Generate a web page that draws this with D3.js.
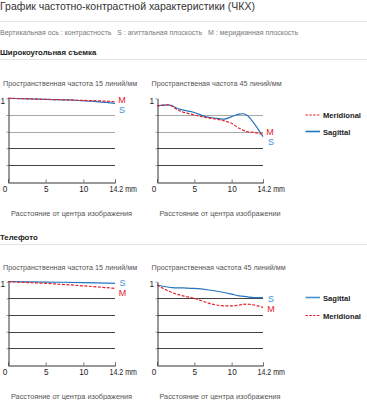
<!DOCTYPE html>
<html>
<head>
<meta charset="utf-8">
<script src="https://cdn.jsdelivr.net/npm/d3@7/dist/d3.min.js"></script>
<style>
  body { margin: 0; background: #fff; }
  text { font-family: "Liberation Sans", Arial, sans-serif; }
</style>
</head>
<body>
<script>
// ticks
const distTicks = [0, 5, 10, 14.2];
const gridLevels = [0.2, 0.4, 0.6, 0.8];

// wide angle, 15 lines/mm
const wide15Dist = [0, 2, 4, 6, 8, 10, 11, 12, 13, 14.2];
const wide15S = [1.0, 0.995, 0.99, 0.985, 0.98, 0.97, 0.965, 0.958, 0.95, 0.94];
const wide15M = [1.0, 0.995, 0.99, 0.985, 0.98, 0.975, 0.972, 0.97, 0.965, 0.96];

// wide angle, 45 lines/mm
const wide45Dist = [0, 1.5, 3, 5, 6.5, 8, 9, 10, 11, 11.5, 12, 13, 14.2];
const wide45S = [0.91, 0.92, 0.87, 0.83, 0.78, 0.76, 0.75, 0.78, 0.81, 0.815, 0.80, 0.70, 0.54];
const wide45M = [0.91, 0.92, 0.85, 0.80, 0.77, 0.75, 0.73, 0.70, 0.64, 0.62, 0.60, 0.59, 0.57];

// tele, 15 lines/mm
const tele15Dist = [0, 5, 10, 14.2];
const tele15S = [1.0, 0.995, 0.99, 0.98];
const tele15M = [1.0, 0.98, 0.95, 0.92];

// tele, 45 lines/mm
const tele45Dist = [0, 2, 3.5, 5, 7, 9, 10, 11, 12, 13, 14.2];
const tele45S = [0.96, 0.93, 0.925, 0.92, 0.90, 0.87, 0.85, 0.83, 0.82, 0.81, 0.81];
const tele45M = [0.96, 0.87, 0.83, 0.80, 0.74, 0.71, 0.71, 0.72, 0.73, 0.72, 0.69];

const RED = "#e5202b";
const BLUE = "#2575bd";
const LABEL_BLUE = "#3a90d4";

const svg = d3.select("body").append("svg")
    .attr("width", 367)
    .attr("height", 400);

// page headings
svg.append("text").attr("x", 0).attr("y", 10)
    .attr("font-size", 10.5).attr("fill", "#333")
    .text("График частотно-контрастной характеристики (ЧКХ)");
svg.append("line").attr("x1", 0).attr("x2", 367).attr("y1", 21.5).attr("y2", 21.5)
    .attr("stroke", "#e4e4e4");
svg.append("text").attr("x", 0).attr("y", 35)
    .attr("font-size", 7).attr("fill", "#777")
    .attr("xml:space", "preserve")
    .text("Вертикальная ось : контрастность   S : агиттальная плоскость   M : меридианная плоскость");
svg.append("text").attr("x", 0).attr("y", 54.5)
    .attr("font-size", 7.8).attr("font-weight", "bold").attr("fill", "#222")
    .text("Широкоугольная съемка");
svg.append("line").attr("x1", 0).attr("x2", 367).attr("y1", 59.5).attr("y2", 59.5)
    .attr("stroke", "#e4e4e4");
svg.append("text").attr("x", 0).attr("y", 239.5)
    .attr("font-size", 7.8).attr("font-weight", "bold").attr("fill", "#222")
    .text("Телефото");
svg.append("line").attr("x1", 0).attr("x2", 367).attr("y1", 244.5).attr("y2", 244.5)
    .attr("stroke", "#e4e4e4");

function drawPanel(p) {
    const x = d3.scaleLinear().domain([0, 14.2]).range([p.left, p.right]);
    const y = d3.scaleLinear().domain([0, 1]).range([p.bottom, p.top]);
    const g = svg.append("g");

    g.append("text").attr("x", p.titleX).attr("y", p.top - 12)
        .attr("font-size", 7.2).attr("fill", "#555").text(p.title);

    // grid
    g.selectAll(".grid").data(gridLevels).join("line")
        .attr("x1", p.left).attr("x2", p.right)
        .attr("y1", d => Math.round(y(d)) + 0.5).attr("y2", d => Math.round(y(d)) + 0.5)
        .attr("stroke", d => (p.lightTop && d >= 0.6) ? "#a8a8a8" : "#444");

    // axes
    const xAxis = g.append("g")
        .attr("transform", `translate(0,${Math.round(p.bottom) + 0.5})`)
        .call(d3.axisBottom(x).tickValues(distTicks).tickSize(-3).tickPadding(4)
            .tickFormat(d => d === 14.2 ? "14.2 mm" : d));
    xAxis.select(".domain").attr("stroke", "#333");
    xAxis.selectAll(".tick line").attr("stroke", "#777");
    xAxis.selectAll(".tick text").attr("font-size", 8.2).attr("fill", "#222")
        .attr("font-family", null);
    xAxis.selectAll(".tick text").filter(d => d === 0).attr("x", -3.5);
    xAxis.selectAll(".tick text").filter(d => d === 14.2)
        .attr("text-anchor", "start").attr("x", -6)
        .attr("textLength", 27.5).attr("lengthAdjust", "spacingAndGlyphs");

    const yAxis = g.append("g")
        .attr("transform", `translate(${p.left + 0.5},0)`)
        .call(d3.axisLeft(y).tickValues([0.2, 0.4, 0.6, 0.8, 1]).tickSize(2).tickPadding(1.5)
            .tickSizeOuter(0)
            .tickFormat(d => d === 1 ? "1" : ""));
    yAxis.select(".domain").attr("stroke", "#333");
    yAxis.selectAll(".tick line").attr("stroke", "#999");
    yAxis.selectAll(".tick text").attr("font-size", 8.2).attr("fill", "#222")
        .attr("font-family", null).attr("dy", "0.6em");

    const line = d3.line()
        .x(d => x(d[0]))
        .y(d => y(d[1]))
        .curve(d3.curveMonotoneX);

    p.series.forEach(s => {
        g.append("path")
            .datum(d3.zip(s.dist, s.values))
            .attr("d", line)
            .attr("fill", "none")
            .attr("stroke", s.color)
            .attr("stroke-width", 1.2)
            .attr("stroke-dasharray", s.dashed ? "3,1.5" : null);
    });

    p.tags.forEach(t => {
        g.append("text").attr("x", t.x).attr("y", t.y)
            .attr("text-anchor", "middle").attr("font-size", 9)
            .attr("fill", t.color).text(t.text);
    });

    g.append("text").attr("x", p.titleX + 8).attr("y", p.bottom + 34)
        .attr("font-size", 7.3).attr("fill", "#555").text(p.axisTitle);
}

function drawLegend(x0, items) {
    items.forEach(it => {
        svg.append("line")
            .attr("x1", x0).attr("x2", x0 + 14.5)
            .attr("y1", it.y).attr("y2", it.y)
            .attr("stroke", it.color).attr("stroke-width", it.dashed ? 1.2 : 1.6)
            .attr("stroke-dasharray", it.dashed ? "2.5,1.3" : null);
        svg.append("text").attr("x", x0 + 17.5).attr("y", it.y + 3)
            .attr("font-size", 7.6).attr("font-weight", "bold").attr("fill", "#222")
            .text(it.text);
    });
}

const topY = 98.3, botY = 181.7;
const topY2 = 281.7, botY2 = 365;

drawPanel({
    left: 8, right: 115, top: topY, bottom: botY, titleX: 3, lightTop: true,
    title: "Пространственная частота 15 линий/мм",
    axisTitle: "Расстояние от центра изображения",
    series: [
        { dist: wide15Dist, values: wide15S, color: BLUE, dashed: false },
        { dist: wide15Dist, values: wide15M, color: RED, dashed: true }
    ],
    tags: [
        { text: "M", x: 122, y: 103 , color: RED },
        { text: "S", x: 122, y: 113.3, color: LABEL_BLUE }
    ]
});

drawPanel({
    left: 157, right: 263, top: topY, bottom: botY, titleX: 151.5, lightTop: true,
    title: "Пространственая частота 45 линий/мм",
    axisTitle: "Расстояние от центра изображении",
    series: [
        { dist: wide45Dist, values: wide45S, color: BLUE, dashed: false },
        { dist: wide45Dist, values: wide45M, color: RED, dashed: true }
    ],
    tags: [
        { text: "M", x: 270, y: 135, color: RED },
        { text: "S", x: 271, y: 145.3, color: LABEL_BLUE }
    ]
});

drawLegend(305.5, [
    { text: "Meridional", y: 115, color: RED, dashed: true },
    { text: "Sagittal", y: 131.5, color: BLUE, dashed: false }
]);

drawPanel({
    left: 8, right: 115, top: topY2, bottom: botY2, titleX: 3, lightTop: false,
    title: "Пространственная частота 15 линий/мм",
    axisTitle: "Расстояние от центра изображения",
    series: [
        { dist: tele15Dist, values: tele15S, color: BLUE, dashed: false },
        { dist: tele15Dist, values: tele15M, color: RED, dashed: true }
    ],
    tags: [
        { text: "S", x: 122.5, y: 286, color: LABEL_BLUE },
        { text: "M", x: 122.5, y: 296.3, color: RED }
    ]
});

drawPanel({
    left: 157, right: 263, top: topY2, bottom: botY2, titleX: 151.5, lightTop: false,
    title: "Пространственная частота 45 линий/мм",
    axisTitle: "Расстояние от центра изображения",
    series: [
        { dist: tele45Dist, values: tele45S, color: BLUE, dashed: false },
        { dist: tele45Dist, values: tele45M, color: RED, dashed: true }
    ],
    tags: [
        { text: "S", x: 271, y: 301.5, color: LABEL_BLUE },
        { text: "M", x: 271, y: 312, color: RED }
    ]
});

drawLegend(305.5, [
    { text: "Sagittal", y: 297.5, color: "#4a90cf", dashed: false },
    { text: "Meridional", y: 315.5, color: RED, dashed: true }
]);
</script>
</body>
</html>
